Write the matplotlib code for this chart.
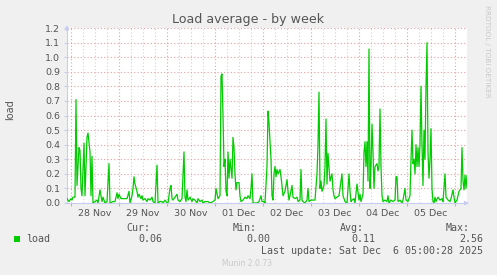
import numpy as np
import matplotlib
matplotlib.use("Agg")
import matplotlib.pyplot as plt
import matplotlib.dates as mdates
from matplotlib.patches import Rectangle

# munin week graph: 30 minute steps starting 27 Nov 2025 22:00
start = np.datetime64("2025-11-27T22:00")
# (step index, load) pairs
steps = [0, 1, 2, 4, 5, 6, 8, 9, 10, 12, 13, 14, 15, 17, 18, 20, 21, 23, 24, 25,
         26, 28, 30, 31, 33, 35, 36, 38, 40, 42, 43, 46, 48, 50, 51, 52, 54, 56, 58, 60,
         62, 63, 65, 66, 67, 68, 70, 71, 72, 74, 75, 76, 78, 80, 81, 83, 85, 86, 88, 90,
         91, 93, 95, 96, 98, 100, 101, 103, 104, 105, 106, 108, 110, 111, 113, 115, 117, 118, 119, 120,
         121, 123, 125, 126, 128, 130, 131, 133, 135, 136, 138, 141, 143, 146, 148, 149, 151, 153, 154, 155,
         156, 157, 158, 159, 160, 161, 162, 163, 165, 166, 167, 168, 169, 170, 172, 173, 174, 176, 178, 180,
         181, 183, 184, 185, 186, 188, 190, 192, 194, 195, 197, 198, 200, 201, 202, 204, 205, 206, 207, 208,
         209, 210, 211, 213, 214, 215, 216, 218, 220, 221, 222, 223, 225, 226, 228, 230, 231, 233, 234, 235,
         236, 238, 240, 241, 242, 244, 246, 248, 250, 251, 252, 253, 254, 255, 256, 257, 258, 259, 260, 261,
         263, 265, 266, 267, 268, 270, 272, 273, 275, 276, 278, 280, 282, 283, 284, 285, 287, 288, 290, 292,
         293, 294, 296, 297, 298, 299, 300, 301, 302, 303, 304, 305, 306, 307, 308, 310, 311, 312, 313, 314,
         315, 316, 318, 320, 321, 322, 324, 326, 328, 329, 330, 331, 333, 335, 336, 338, 339, 341, 343, 344,
         345, 346, 347, 348, 349, 350, 351, 352, 353, 354, 355, 356, 357, 358, 359, 360, 361, 362, 363, 364,
         365, 366, 367, 368, 369, 371, 373, 375, 376, 378, 379, 381, 383, 384, 386, 387, 388, 390, 392, 394,
         395, 396, 397, 398, 399, 400]
load = [0.03, 0.02, 0.01, 0.03, 0.02, 0.04, 0.04, 0.71, 0.12, 0.38, 0.36, 0.10, 0.05, 0.41, 0.05, 0.45, 0.48, 0.35, 0.05, 0.32,
        0.00, 0.01, 0.02, 0.00, 0.09, 0.01, 0.04, 0.00, 0.01, 0.27, 0.00, 0.01, 0.01, 0.07, 0.03, 0.06, 0.03, 0.03, 0.03, 0.03,
        0.08, 0.00, 0.05, 0.10, 0.18, 0.13, 0.08, 0.04, 0.06, 0.03, 0.05, 0.02, 0.03, 0.01, 0.03, 0.02, 0.04, 0.01, 0.00, 0.26,
        0.00, 0.01, 0.01, 0.00, 0.02, 0.00, 0.00, 0.10, 0.12, 0.03, 0.02, 0.04, 0.06, 0.02, 0.01, 0.03, 0.35, 0.04, 0.01, 0.09,
        0.02, 0.04, 0.01, 0.03, 0.02, 0.00, 0.03, 0.01, 0.02, 0.00, 0.01, 0.01, 0.00, 0.01, 0.02, 0.10, 0.03, 0.05, 0.87, 0.885,
        0.60, 0.25, 0.30, 0.08, 0.05, 0.35, 0.17, 0.30, 0.17, 0.45, 0.38, 0.20, 0.09, 0.14, 0.14, 0.05, 0.01, 0.02, 0.04, 0.03,
        0.05, 0.03, 0.10, 0.20, 0.00, 0.00, 0.00, 0.01, 0.05, 0.01, 0.01, 0.00, 0.25, 0.63, 0.55, 0.30, 0.05, 0.02, 0.20, 0.25,
        0.18, 0.23, 0.20, 0.23, 0.18, 0.12, 0.05, 0.08, 0.16, 0.08, 0.02, 0.05, 0.12, 0.04, 0.03, 0.04, 0.01, 0.02, 0.23, 0.02,
        0.01, 0.00, 0.02, 0.10, 0.01, 0.02, 0.02, 0.02, 0.20, 0.40, 0.76, 0.10, 0.15, 0.08, 0.10, 0.12, 0.25, 0.576, 0.13, 0.34,
        0.15, 0.20, 0.09, 0.05, 0.03, 0.04, 0.05, 0.10, 0.20, 0.05, 0.01, 0.00, 0.20, 0.08, 0.01, 0.02, 0.03, 0.00, 0.13, 0.02,
        0.06, 0.01, 0.06, 0.35, 0.42, 0.25, 0.42, 0.15, 1.056, 0.10, 0.25, 0.54, 0.35, 0.10, 0.25, 0.27, 0.22, 0.25, 0.645, 0.25,
        0.05, 0.01, 0.02, 0.01, 0.05, 0.00, 0.02, 0.01, 0.02, 0.18, 0.18, 0.01, 0.02, 0.00, 0.02, 0.10, 0.02, 0.01, 0.05, 0.30,
        0.50, 0.27, 0.30, 0.20, 0.40, 0.25, 0.38, 0.25, 0.40, 0.80, 0.40, 0.12, 0.50, 0.30, 0.80, 1.10, 0.35, 0.17, 0.30, 0.51,
        0.10, 0.01, 0.00, 0.04, 0.01, 0.04, 0.02, 0.03, 0.01, 0.20, 0.04, 0.02, 0.01, 0.03, 0.09, 0.04, 0.00, 0.02, 0.08, 0.10,
        0.38, 0.15, 0.09, 0.19, 0.10, 0.19]
n_steps = 400
y_ticks = [0.0, 0.1, 0.2, 0.3, 0.4, 0.5, 0.6, 0.7, 0.8, 0.9, 1.0, 1.1, 1.2]
stats = {"Cur:": "0.06", "Min:": "0.00", "Avg:": "0.11", "Max:": "2.56"}
last_update = "Last update: Sat Dec  6 05:00:28 2025"

W, H = 497, 275
BG = "#f0f0f0"
TXT = "#555555"
RED = "#e8a0a0"
GRAY = "#d0d0d0"
AXC = "#c8ccf0"


def fx(x):
    return x / W


def fy(y):
    return 1 - y / H


times = start + np.array(steps) * np.timedelta64(30, "m")

fig = plt.figure(figsize=(W / 100, H / 100), dpi=100, facecolor=BG)
ax = fig.add_axes([fx(67), fy(203), 400 / W, 175 / H])
ax.set_facecolor("white")

ax.plot(times, load, color="#00cc00", lw=0.9, zorder=3)

ax.set_xlim(start, start + n_steps * np.timedelta64(30, "m"))
ax.set_ylim(0, 1.2)

# grid: red at days / every 0.1, gray every 6 hours
ax.xaxis.set_major_locator(mdates.HourLocator(byhour=[0]))
ax.xaxis.set_minor_locator(mdates.HourLocator(byhour=[6, 12, 18]))
ax.xaxis.set_major_formatter(plt.NullFormatter())


def noon_label(v, pos):
    d = mdates.num2date(v)
    return d.strftime("%d %b") if d.hour == 12 else ""


ax.xaxis.set_minor_formatter(plt.FuncFormatter(noon_label))
ax.grid(which="major", axis="x", color=RED, ls=(0, (1, 2)), lw=0.8)
ax.grid(which="minor", axis="x", color=GRAY, ls=(0, (1, 2)), lw=0.8)
ax.set_yticks(y_ticks)
ax.set_yticklabels([f"{v:.1f}" for v in y_ticks])
ax.grid(which="major", axis="y", color=RED, ls=(0, (1, 2)), lw=0.8)
ax.set_axisbelow(True)

ax.tick_params(axis="y", which="major", length=2, color=AXC, labelsize=6.8,
               labelcolor=TXT, pad=3)
ax.tick_params(axis="x", which="major", length=2, color=RED)
ax.tick_params(axis="x", which="minor", length=0, labelsize=6.8, labelcolor=TXT, pad=4)

for s in ["top", "right"]:
    ax.spines[s].set_visible(False)
for s in ["left", "bottom"]:
    ax.spines[s].set_color(AXC)
    ax.spines[s].set_linewidth(0.8)

# axis arrow heads
ax.annotate("", xy=(0, 1.03), xytext=(0, 0.99), xycoords="axes fraction",
            arrowprops=dict(arrowstyle="-|>", color=AXC, lw=0.8, mutation_scale=6))
ax.annotate("", xy=(1.012, 0), xytext=(0.99, 0), xycoords="axes fraction",
            arrowprops=dict(arrowstyle="-|>", color=AXC, lw=0.8, mutation_scale=6))

fig.text(0.5, fy(19), "Load average - by week", ha="center", va="center",
         fontsize=9.1, color=TXT)
fig.text(fx(10), fy(110), "load", rotation=90, ha="center", va="center",
         fontsize=7, color=TXT)
fig.text(fx(487), fy(5), "RRDTOOL / TOBI OETIKER", rotation=270, ha="center",
         va="top", fontsize=5.2, color="#c8c8c8")

mono = "DejaVu Sans Mono"
fig.patches.append(Rectangle((fx(14), fy(242)), 6 / W, 6 / H, transform=fig.transFigure,
                             facecolor="#00cc00", edgecolor="none"))
fig.text(fx(26), fy(239), "load", family=mono, fontsize=7.2, color=TXT, va="center")
label_right = [150, 257, 364, 470]
value_right = [162, 270, 375, 483]
for (k, v), xl, xv in zip(stats.items(), label_right, value_right):
    fig.text(fx(xl), fy(228), k, family=mono, fontsize=7.2, color=TXT, ha="right", va="center")
    fig.text(fx(xv), fy(239), v, family=mono, fontsize=7.2, color=TXT, ha="right", va="center")
fig.text(fx(483), fy(251), last_update, family=mono, fontsize=7.2, color=TXT,
         ha="right", va="center")
fig.text(fx(247), fy(264), "Munin 2.0.73", fontsize=5.5, color="#c8c8c8",
         ha="center", va="center")

fig.savefig("out.png", dpi=100, facecolor=BG)
